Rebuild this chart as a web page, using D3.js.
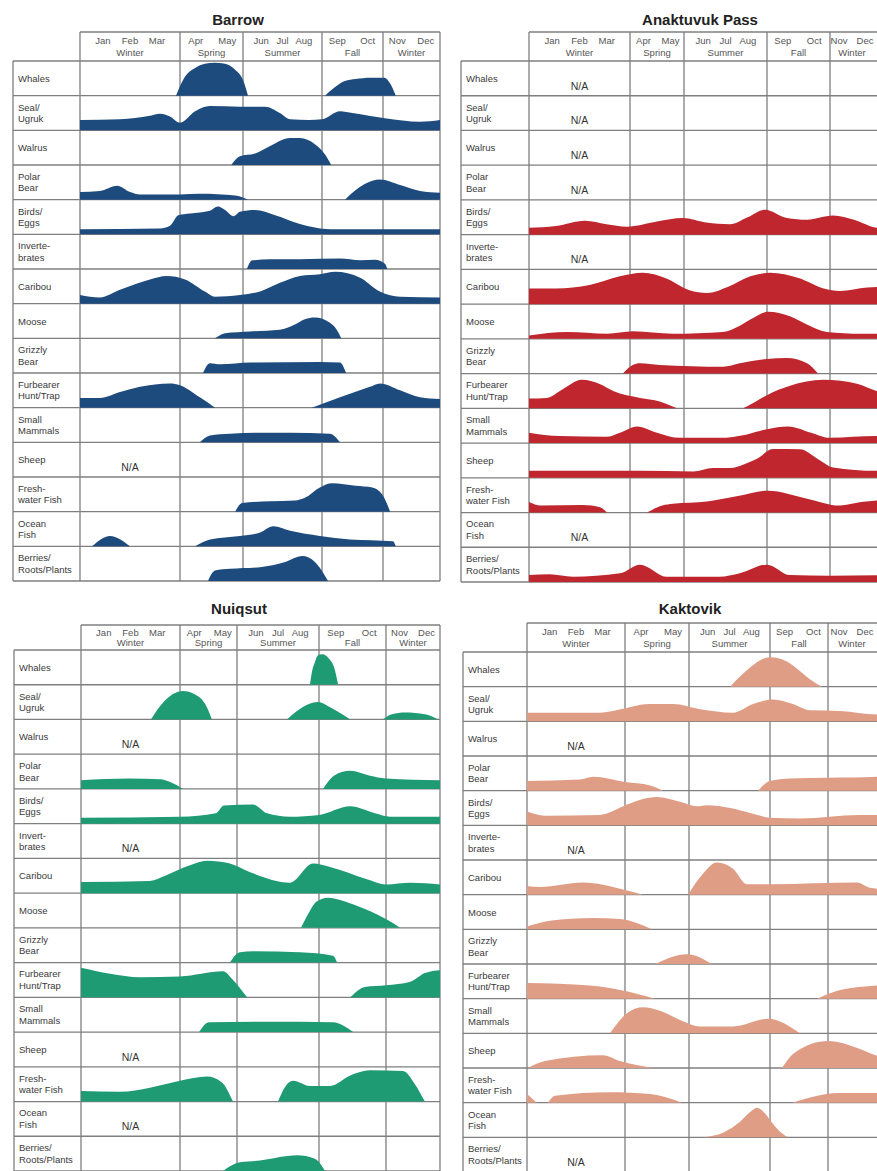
<!DOCTYPE html>
<html>
<head>
<meta charset="utf-8">
<script src="https://cdn.jsdelivr.net/npm/d3@7"></script>
<style>
body { margin: 0; background: #fff; }
svg text { font-family: "Liberation Sans", Arial, sans-serif; }
</style>
</head>
<body>
<svg id="chart" width="877" height="1171"></svg>
<script>
// season boundaries in months (0 = start of Jan, 12 = end of Dec)
const seasonBreaks = [0, 3, 5, 8, 10, 12];
const seasonNames = ["Winter", "Spring", "Summer", "Fall", "Winter"];
const seasonMonths = [["Jan", "Feb", "Mar"], ["Apr", "May"], ["Jun", "Jul", "Aug"], ["Sep", "Oct"], ["Nov", "Dec"]];

const rowLabels = [
  ["Whales"], ["Seal/", "Ugruk"], ["Walrus"], ["Polar", "Bear"], ["Birds/", "Eggs"],
  ["Inverte-", "brates"], ["Caribou"], ["Moose"], ["Grizzly", "Bear"], ["Furbearer", "Hunt/Trap"],
  ["Small", "Mammals"], ["Sheep"], ["Fresh-", "water Fish"], ["Ocean", "Fish"], ["Berries/", "Roots/Plants"],
];
const nuiqsutLabels = rowLabels.map((l, i) => i === 5 ? ["Invert-", "brates"] : l);

// each row: null = N/A, otherwise a list of segments of [month, relative activity]
const barrow = [
  [[[2.88, 0], [3.16, 0.55], [3.48, 0.8], [3.79, 0.92], [4.1, 0.95], [4.43, 0.92], [4.75, 0.75], [5.0, 0.45], [5.19, 0]],
   [[8.1, 0], [8.43, 0.25], [8.75, 0.42], [9.1, 0.48], [9.6, 0.52], [10.05, 0.52], [10.25, 0.35], [10.45, 0]]],
  [[[0, 0.3], [1.2, 0.32], [2.1, 0.42], [2.4, 0.48], [2.7, 0.4], [3.0, 0.22], [3.48, 0.55], [3.95, 0.7], [4.9, 0.68], [5.84, 0.68], [6.4, 0.5], [6.79, 0.32], [7.5, 0.3], [8.0, 0.32], [8.59, 0.55], [9.0, 0.5], [10.07, 0.35], [11.3, 0.25], [12, 0.3]]],
  [[[4.63, 0], [4.9, 0.25], [5.46, 0.33], [6.03, 0.55], [6.79, 0.78], [7.16, 0.78], [7.73, 0.6], [8.1, 0.3], [8.3, 0]]],
  [[[0, 0.22], [0.6, 0.25], [1.11, 0.4], [1.5, 0.22], [1.8, 0.15], [3.0, 0.15], [3.63, 0.17], [4.75, 0.12], [5.19, 0]],
   [[8.75, 0], [9.4, 0.45], [9.9, 0.58], [10.6, 0.42], [11.3, 0.25], [12, 0.2]]],
  [[[0, 0.15], [2.4, 0.17], [2.7, 0.25], [2.95, 0.55], [3.32, 0.6], [3.95, 0.68], [4.2, 0.8], [4.43, 0.7], [4.7, 0.52], [4.9, 0.65], [5.46, 0.7], [6.22, 0.55], [7.16, 0.3], [7.73, 0.2], [8.26, 0.15], [12, 0.15]]],
  [[[5.15, 0], [5.35, 0.25], [6.03, 0.28], [7.16, 0.28], [8.59, 0.3], [9.25, 0.25], [9.74, 0.27], [10.07, 0.15], [10.15, 0]]],
  [[[0, 0.25], [0.6, 0.18], [1.2, 0.4], [2.1, 0.7], [2.6, 0.8], [3.16, 0.7], [3.79, 0.35], [4.11, 0.2], [4.9, 0.25], [5.65, 0.35], [6.4, 0.6], [7.16, 0.8], [7.92, 0.85], [8.43, 0.92], [9.25, 0.75], [9.9, 0.35], [10.6, 0.2], [12, 0.18]]],
  [[[4.11, 0], [4.43, 0.15], [5.27, 0.2], [6.4, 0.25], [6.97, 0.4], [7.35, 0.55], [7.73, 0.6], [8.26, 0.45], [8.55, 0.15], [8.63, 0]]],
  [[[3.73, 0], [3.95, 0.28], [4.27, 0.25], [5.27, 0.3], [7.92, 0.32], [8.59, 0.3], [8.79, 0]]],
  [[[0, 0.28], [0.6, 0.28], [1.2, 0.45], [1.8, 0.6], [2.7, 0.7], [3.0, 0.65], [3.63, 0.3], [4.11, 0]],
   [[7.61, 0], [8.59, 0.3], [9.57, 0.6], [9.9, 0.7], [10.6, 0.5], [11.3, 0.3], [12, 0.25]]],
  [[[3.63, 0], [3.95, 0.2], [4.59, 0.25], [5.65, 0.28], [6.79, 0.28], [8.26, 0.25], [8.59, 0]]],
  null,
  [[[4.75, 0], [4.97, 0.25], [6.03, 0.3], [6.97, 0.32], [7.35, 0.4], [7.92, 0.7], [8.33, 0.82], [9.1, 0.75], [9.65, 0.7], [9.97, 0.5], [10.25, 0]]],
  [[[0.36, 0], [0.9, 0.3], [1.5, 0]],
   [[3.48, 0], [3.95, 0.2], [4.9, 0.3], [5.65, 0.4], [6.15, 0.58], [6.79, 0.45], [7.92, 0.3], [8.92, 0.2], [10.35, 0.15], [10.45, 0]]],
  [[[3.89, 0], [4.11, 0.3], [4.59, 0.35], [5.65, 0.4], [6.6, 0.55], [7.25, 0.72], [7.73, 0.55], [8.2, 0]]],
];

const anaktuvuk = [
  null, null, null, null,
  [[[0, 0.2], [0.8, 0.25], [1.66, 0.4], [2.3, 0.3], [2.91, 0.23], [4.0, 0.38], [4.96, 0.48], [5.8, 0.35], [6.66, 0.3], [7.3, 0.5], [7.93, 0.72], [8.63, 0.48], [9.27, 0.43], [10.1, 0.55], [10.8, 0.42], [11.5, 0.2], [12, 0.18]]],
  null,
  [[[0, 0.45], [0.8, 0.45], [1.8, 0.55], [2.7, 0.8], [3.48, 0.9], [4.3, 0.75], [5.2, 0.4], [5.83, 0.32], [6.6, 0.5], [7.4, 0.8], [8.1, 0.9], [9.0, 0.75], [9.8, 0.45], [10.32, 0.38], [11.2, 0.48], [12, 0.5]]],
  [[[0, 0.1], [1.13, 0.2], [2.32, 0.15], [3.11, 0.22], [4.59, 0.15], [6.41, 0.2], [7.02, 0.38], [7.5, 0.6], [8.03, 0.78], [8.73, 0.65], [9.3, 0.4], [9.9, 0.2], [11, 0.15], [12, 0.15]]],
  [[[2.79, 0], [3.1, 0.25], [3.37, 0.3], [4.1, 0.25], [6.41, 0.2], [7.02, 0.3], [8.0, 0.42], [8.63, 0.45], [9.27, 0.3], [9.62, 0]]],
  [[[0, 0.28], [0.53, 0.3], [1.0, 0.55], [1.57, 0.82], [2.1, 0.7], [2.5, 0.5], [3.37, 0.3], [4.1, 0.2], [4.74, 0]],
   [[7.14, 0], [7.6, 0.2], [8.0, 0.38], [8.73, 0.65], [9.78, 0.82], [10.9, 0.7], [11.5, 0.5], [12, 0.42]]],
  [[[0, 0.3], [0.92, 0.2], [2.3, 0.18], [2.7, 0.3], [3.26, 0.48], [4.0, 0.3], [4.85, 0.15], [6.27, 0.15], [7.28, 0.25], [8.0, 0.4], [8.67, 0.48], [9.4, 0.3], [10.0, 0.15], [11.5, 0.2], [12, 0.2]]],
  [[[0, 0.2], [1.5, 0.2], [3.37, 0.2], [5.33, 0.18], [6.05, 0.28], [6.66, 0.28], [7.2, 0.4], [7.64, 0.55], [8.19, 0.83], [9.05, 0.82], [9.6, 0.55], [10.1, 0.3], [11.5, 0.2], [12, 0.2]]],
  [[[0, 0.3], [0.35, 0.2], [1.6, 0.22], [2.11, 0.15], [2.32, 0]],
   [[3.63, 0], [4.2, 0.2], [4.59, 0.25], [5.83, 0.32], [7.0, 0.48], [8.03, 0.63], [9.27, 0.4], [10.32, 0.2], [11.0, 0.3], [12, 0.38]]],
  null,
  [[[0, 0.2], [0.62, 0.22], [1.3, 0.15], [2.7, 0.25], [3.37, 0.5], [4.37, 0.15], [6.27, 0.15], [7.02, 0.25], [8.0, 0.5], [8.73, 0.2], [10, 0.18], [12, 0.2]]],
];

const nuiqsut = [
  [[[7.67, 0], [7.75, 0.4], [7.85, 0.65], [7.96, 0.85], [8.1, 0.88], [8.3, 0.75], [8.45, 0.5], [8.57, 0]]],
  [[[2.12, 0], [2.55, 0.55], [3.1, 0.82], [3.53, 0.72], [3.88, 0.45], [4.12, 0]],
   [[6.83, 0], [7.3, 0.3], [7.96, 0.5], [8.33, 0.35], [8.93, 0]],
   [[9.91, 0], [10.22, 0.15], [10.7, 0.2], [11.44, 0.15], [11.93, 0]]],
  null,
  [[[0, 0.25], [1.48, 0.3], [2.4, 0.28], [2.7, 0.2], [3.1, 0]],
   [[8.12, 0], [8.48, 0.4], [8.93, 0.52], [9.52, 0.38], [10.0, 0.3], [12, 0.25]]],
  [[[0, 0.17], [3.0, 0.2], [4.26, 0.3], [4.54, 0.52], [5.59, 0.55], [6.1, 0.3], [6.94, 0.2], [8.0, 0.25], [8.93, 0.5], [9.67, 0.3], [10.15, 0.2], [12, 0.2]]],
  null,
  [[[0, 0.32], [2.09, 0.35], [2.55, 0.5], [3.35, 0.8], [3.95, 0.93], [4.75, 0.85], [5.48, 0.6], [6.94, 0.3], [7.78, 0.85], [8.33, 0.75], [9.43, 0.4], [10.0, 0.25], [10.9, 0.3], [12, 0.25]]],
  [[[7.34, 0], [7.64, 0.45], [7.9, 0.75], [8.28, 0.87], [8.63, 0.8], [9.22, 0.6], [9.91, 0.3], [10.3, 0.12], [10.52, 0]]],
  [[[4.75, 0], [5.1, 0.3], [5.59, 0.33], [7.3, 0.3], [8.42, 0.2], [8.54, 0]]],
  [[[0, 0.85], [0.88, 0.68], [1.79, 0.58], [3.0, 0.6], [4.51, 0.75], [4.86, 0.5], [5.37, 0]],
   [[8.93, 0], [9.37, 0.3], [10.0, 0.35], [10.9, 0.45], [11.44, 0.7], [12, 0.78]]],
  [[[3.67, 0], [4.02, 0.28], [7.3, 0.3], [8.42, 0.28], [9.02, 0]]],
  null,
  [[[0, 0.3], [1.18, 0.28], [2.09, 0.4], [3.0, 0.6], [3.95, 0.72], [4.47, 0.55], [4.86, 0]],
   [[6.5, 0], [6.83, 0.5], [7.05, 0.6], [7.67, 0.45], [8.33, 0.45], [8.93, 0.75], [9.52, 0.9], [10.63, 0.88], [11.07, 0.5], [11.44, 0]]],
  null,
  [[[4.51, 0], [5.1, 0.25], [5.84, 0.3], [7.2, 0.45], [7.85, 0.35], [8.18, 0]]],
];

const kaktovik = [
  [[[6.52, 0], [6.9, 0.3], [7.26, 0.55], [7.6, 0.75], [8.0, 0.85], [8.3, 0.82], [8.6, 0.72], [9.03, 0.45], [9.4, 0.2], [9.79, 0]]],
  [[[0, 0.25], [2.23, 0.25], [2.63, 0.3], [3.78, 0.5], [4.5, 0.5], [5.41, 0.35], [6.63, 0.25], [7.37, 0.5], [8.1, 0.63], [8.79, 0.5], [9.38, 0.32], [10.39, 0.3], [11.58, 0.2], [12, 0.2]]],
  null,
  [[[0, 0.28], [1.62, 0.32], [2.02, 0.4], [3.0, 0.25], [3.78, 0.15], [4.19, 0]],
   [[7.56, 0], [8.0, 0.28], [8.69, 0.35], [10, 0.37], [11.58, 0.4], [12, 0.42]]],
  [[[0, 0.4], [0.55, 0.28], [2.23, 0.3], [2.6, 0.4], [3.06, 0.6], [4.0, 0.82], [4.72, 0.68], [5.3, 0.55], [5.67, 0.58], [6.52, 0.5], [7.3, 0.35], [8.0, 0.22], [9.03, 0.2], [11.0, 0.3], [12, 0.3]]],
  null,
  [[[0, 0.25], [0.4, 0.22], [1.71, 0.35], [2.94, 0.15], [3.56, 0]],
   [[4.97, 0], [5.41, 0.5], [6.04, 0.93], [6.63, 0.75], [7.15, 0.3], [8.0, 0.3], [10.94, 0.35], [11.35, 0.2], [12, 0.15]]],
  [[[0, 0.08], [0.7, 0.25], [2.02, 0.33], [2.85, 0.3], [3.84, 0]]],
  [[[3.94, 0], [4.94, 0.28], [5.85, 0]]],
  [[[0, 0.45], [1.93, 0.38], [2.85, 0.25], [3.94, 0]],
   [[9.62, 0], [10.39, 0.25], [11.58, 0.38], [12, 0.4]]],
  [[[2.54, 0], [3.09, 0.6], [3.56, 0.75], [4.09, 0.65], [4.81, 0.35], [5.41, 0.2], [6.63, 0.2], [7.93, 0.42], [9.03, 0]]],
  [[[0.03, 0], [0.55, 0.2], [2.33, 0.37], [2.85, 0.2], [3.88, 0]],
   [[8.41, 0], [8.86, 0.45], [10.0, 0.78], [11.03, 0.55], [11.58, 0.35], [12, 0.25]]],
  [[[0, 0.25], [0.3, 0]],
   [[0.64, 0], [0.86, 0.2], [2.54, 0.3], [3.78, 0.25], [4.78, 0]],
   [[8.76, 0], [9.38, 0.15], [10.39, 0.28], [11.58, 0.28], [12, 0.25]]],
  [[[5.48, 0], [6.3, 0.15], [6.89, 0.45], [7.3, 0.75], [7.52, 0.85], [7.8, 0.7], [8.0, 0.5], [8.3, 0.2], [8.62, 0]]],
  null,
];

// layout of the four tables on the page
const panels = [
  { title: "Barrow", data: barrow, labels: rowLabels, color: "#1e4b7d",
    left: 13, bounds: [80, 180, 243, 322, 383, 440], headTop: 32, top: 61, bottom: 581, titleX: 238, titleY: 25 },
  { title: "Anaktuvuk Pass", data: anaktuvuk, labels: rowLabels, color: "#bf262d",
    left: 461, bounds: [529, 630, 684, 767, 830, 892], headTop: 32, top: 61, bottom: 582, titleX: 700, titleY: 25 },
  { title: "Nuiqsut", data: nuiqsut, labels: nuiqsutLabels, color: "#1f9b74",
    left: 14, bounds: [81, 180, 237, 319, 386, 440], headTop: 625, top: 650, bottom: 1171, titleX: 239, titleY: 614 },
  { title: "Kaktovik", data: kaktovik, labels: rowLabels, color: "#e09d86",
    left: 463, bounds: [527, 625, 689, 770, 828, 890], headTop: 623, top: 652, bottom: 1172, titleX: 690, titleY: 614 },
];

const svg = d3.select("#chart");
const pageWidth = +svg.attr("width");
const gridColor = "#7f7f7f";

function drawPanel(p) {
  const g = svg.append("g");
  const x = d3.scaleLinear().domain(seasonBreaks).range(p.bounds);
  const y = d3.scaleLinear().domain([0, p.labels.length]).range([p.top, p.bottom]);
  const rowH = y(1) - y(0);
  const x0 = p.bounds[0];
  const x1 = p.bounds[p.bounds.length - 1];

  g.append("text")
    .attr("x", p.titleX)
    .attr("y", p.titleY)
    .attr("text-anchor", "middle")
    .attr("font-size", "15px")
    .attr("font-weight", "bold")
    .attr("fill", "#222")
    .text(p.title);

  // header: months and season names (kept inside the page where the table runs off it)
  const headH = p.top - p.headTop;
  seasonNames.forEach((s, j) => {
    const a = x(seasonBreaks[j]);
    const b = x(seasonBreaks[j + 1]);
    const cx = Math.min((a + b) / 2, pageWidth - 25);
    const ms = seasonMonths[j];
    const step = ms.length === 3 ? (b - a) * 0.27 : Math.min((b - a) * 0.5, 2 * (pageWidth - 12 - cx));
    ms.forEach((m, k) => {
      g.append("text")
        .attr("x", cx + (k - (ms.length - 1) / 2) * step)
        .attr("y", p.headTop + headH * 0.42)
        .attr("text-anchor", "middle")
        .attr("font-size", "9.5px")
        .attr("fill", "#555")
        .text(m);
    });
    g.append("text")
      .attr("x", cx)
      .attr("y", p.headTop + headH * 0.84)
      .attr("text-anchor", "middle")
      .attr("font-size", "9.5px")
      .attr("fill", "#555")
      .text(s);
  });

  // grid
  const grid = g.append("g")
    .attr("stroke", gridColor)
    .attr("stroke-width", 1.3)
    .attr("fill", "none");
  grid.append("line")
    .attr("x1", x0).attr("x2", x1)
    .attr("y1", p.headTop).attr("y2", p.headTop);
  grid.selectAll(".vline")
    .data(seasonBreaks)
    .join("line")
    .attr("x1", (d) => x(d)).attr("x2", (d) => x(d))
    .attr("y1", p.headTop).attr("y2", p.bottom);
  grid.append("line")
    .attr("x1", p.left).attr("x2", p.left)
    .attr("y1", p.top).attr("y2", p.bottom);
  grid.selectAll(".hline")
    .data(d3.range(p.labels.length + 1))
    .join("line")
    .attr("x1", p.left).attr("x2", x1)
    .attr("y1", (d) => y(d)).attr("y2", (d) => y(d));

  // row labels
  p.labels.forEach((lines, i) => {
    const cy = y(i) + rowH / 2;
    const t = g.append("text")
      .attr("font-size", "9.5px")
      .attr("fill", "#3a3a3a");
    lines.forEach((line, k) => {
      t.append("tspan")
        .attr("x", p.left + 5)
        .attr("y", lines.length === 1 ? cy + 3.5 : cy - 2.5 + k * 11.5)
        .text(line);
    });
  });

  // activity areas
  p.data.forEach((row, i) => {
    const base = y(i + 1);
    if (row === null) {
      g.append("text")
        .attr("x", x(1.5))
        .attr("y", base - 6)
        .attr("text-anchor", "middle")
        .attr("font-size", "10.5px")
        .attr("fill", "#333")
        .text("N/A");
      return;
    }
    const area = d3.area()
      .x((d) => x(d[0]))
      .y0(base)
      .y1((d) => base - d[1] * rowH)
      .curve(d3.curveMonotoneX);
    g.selectAll(null)
      .data(row)
      .join("path")
      .attr("d", area)
      .attr("fill", p.color);
  });
}

panels.forEach(drawPanel);
</script>
</body>
</html>
